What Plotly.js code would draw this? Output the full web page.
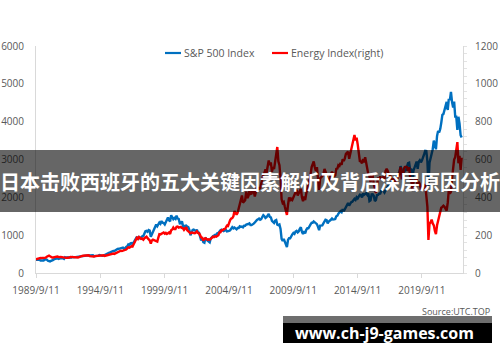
<!DOCTYPE html>
<html>
<head>
<meta charset="utf-8">
<script src="https://cdn.plot.ly/plotly-3.0.1.min.js"></script>
<style>
html,body{margin:0;padding:0;background:#fff;}
#chart{width:500px;height:362px;}
</style>
</head>
<body>
<div id="chart"></div>
<script>
// Monthly series, Sep 1989 .. Oct 2022
var startYear = 1989, startMonth = 9;

var sp500 = [
  349, 340, 346, 353,
  329, 332, 340, 331, 361, 358, 356, 323, 306, 304, 322, 330,
  344, 367, 375, 375, 390, 371, 388, 395, 388, 392, 375, 417,
  409, 413, 404, 415, 415, 408, 424, 414, 418, 419, 431, 436,
  439, 443, 452, 440, 450, 451, 448, 464, 459, 468, 462, 466,
  482, 467, 446, 451, 457, 444, 458, 475, 463, 472, 454, 459,
  470, 487, 501, 515, 533, 545, 562, 562, 584, 582, 605, 616,
  636, 640, 646, 654, 669, 671, 640, 652, 687, 705, 757, 741,
  786, 791, 757, 801, 848, 885, 954, 899, 947, 915, 955, 970,
  980, 1049, 1102, 1112, 1091, 1134, 1121, 957, 1017, 1099, 1164, 1229,
  1280, 1238, 1286, 1335, 1302, 1373, 1329, 1320, 1283, 1363, 1389, 1469,
  1394, 1366, 1527, 1452, 1421, 1455, 1431, 1518, 1437, 1429, 1315, 1320,
  1366, 1240, 1160, 1249, 1256, 1224, 1211, 1134, 1000, 1060, 1139, 1148,
  1130, 1107, 1147, 1076, 1067, 990, 860, 916, 815, 800, 936, 880,
  856, 841, 810, 917, 964, 975, 990, 1008, 996, 1051, 1058, 1112,
  1131, 1145, 1126, 1107, 1121, 1141, 1102, 1104, 1115, 1130, 1174, 1212,
  1181, 1204, 1181, 1157, 1192, 1191, 1234, 1220, 1229, 1207, 1249, 1248,
  1280, 1281, 1295, 1311, 1270, 1270, 1277, 1304, 1336, 1378, 1401, 1418,
  1438, 1407, 1421, 1482, 1531, 1503, 1455, 1474, 1527, 1560, 1481, 1468,
  1379, 1331, 1323, 1386, 1400, 1280, 1267, 1283, 1166, 900, 850, 903,
  826, 740, 685, 873, 919, 919, 987, 1021, 1057, 1036, 1096, 1115,
  1074, 1104, 1169, 1210, 1089, 1031, 1102, 1049, 1141, 1183, 1181, 1258,
  1286, 1327, 1326, 1364, 1345, 1321, 1292, 1219, 1131, 1253, 1247, 1258,
  1312, 1366, 1408, 1398, 1310, 1362, 1379, 1407, 1441, 1412, 1416, 1426,
  1498, 1515, 1569, 1598, 1631, 1606, 1686, 1633, 1682, 1757, 1806, 1848,
  1783, 1859, 1872, 1884, 1924, 1960, 1931, 2003, 1972, 2018, 2068, 2059,
  1995, 2105, 2068, 2086, 2107, 2063, 2104, 1900, 1920, 2079, 2080, 2044,
  1900, 1932, 2060, 2065, 2097, 2099, 2174, 2171, 2168, 2126, 2199, 2239,
  2279, 2364, 2363, 2384, 2412, 2423, 2470, 2472, 2519, 2575, 2648, 2674,
  2824, 2714, 2641, 2648, 2705, 2718, 2816, 2902, 2914, 2712, 2760, 2420,
  2704, 2784, 2834, 2946, 2752, 2942, 2980, 2926, 2977, 3038, 3141, 3231,
  3226, 2954, 2300, 2912, 3044, 3100, 3271, 3500, 3363, 3270, 3622, 3756,
  3714, 3811, 3973, 4181, 4204, 4298, 4395, 4523, 4308, 4605, 4567, 4790,
  4516, 4374, 4530, 4132, 4132, 3785, 4130, 3955, 3640, 3580
];

var energy = [
  72, 75, 77, 79,
  80, 79, 80, 78, 82, 81, 86, 90, 92, 88, 84, 82,
  82, 86, 85, 86, 87, 84, 86, 85, 84, 83, 80, 82,
  80, 81, 80, 82, 85, 84, 86, 85, 84, 82, 81, 82,
  84, 87, 89, 90, 91, 92, 90, 93, 92, 94, 89, 88,
  90, 88, 87, 89, 90, 92, 93, 92, 91, 94, 93, 94,
  90, 92, 94, 97, 99, 98, 100, 101, 103, 101, 104, 107,
  108, 110, 114, 118, 116, 118, 116, 120, 124, 130, 136, 134,
  140, 142, 140, 150, 160, 170, 186, 180, 190, 186, 180, 182,
  176, 184, 190, 192, 184, 180, 172, 155, 172, 176, 174, 170,
  168, 166, 186, 205, 204, 208, 212, 214, 208, 212, 206, 210,
  214, 206, 226, 230, 240, 232, 232, 244, 245, 240, 242, 244,
  238, 236, 228, 238, 242, 226, 222, 218, 210, 214, 212, 214,
  210, 214, 220, 212, 210, 200, 188, 186, 172, 180, 184, 180,
  176, 178, 176, 180, 188, 192, 190, 194, 192, 196, 200, 214,
  216, 226, 226, 232, 232, 240, 250, 248, 270, 280, 288, 290,
  300, 328, 318, 308, 318, 342, 366, 392, 410, 372, 380, 385,
  430, 396, 405, 432, 418, 420, 442, 432, 405, 430, 452, 450,
  445, 448, 470, 500, 520, 530, 548, 530, 565, 595, 570, 585,
  535, 560, 550, 600, 640, 666, 590, 570, 500, 390, 370, 375,
  350, 318, 307, 360, 400, 380, 392, 386, 402, 414, 426, 440,
  410, 420, 428, 445, 400, 380, 405, 385, 420, 445, 462, 492,
  520, 560, 580, 590, 560, 540, 560, 500, 440, 500, 505, 510,
  520, 550, 530, 520, 470, 490, 505, 520, 535, 525, 512, 515,
  550, 552, 570, 566, 582, 572, 602, 592, 606, 630, 640, 642,
  604, 628, 650, 690, 700, 729, 702, 715, 680, 645, 592, 590,
  580, 602, 584, 612, 582, 560, 520, 512, 480, 525, 515, 470,
  440, 423, 462, 505, 495, 510, 500, 505, 508, 495, 540, 550,
  540, 520, 518, 508, 492, 490, 498, 472, 505, 500, 510, 532,
  560, 500, 500, 550, 560, 562, 560, 540, 560, 500, 490, 440,
  480, 492, 500, 500, 460, 482, 470, 440, 452, 446, 450, 470,
  420, 350, 175, 260, 268, 282, 262, 252, 222, 205, 252, 272,
  292, 322, 345, 350, 356, 350, 340, 330, 372, 440, 420, 430,
  500, 540, 600, 612, 660, 692, 580, 620, 545, 610
];

var tickDates = ['1989-09-11','1994-09-11','1999-09-11','2004-09-11','2009-09-11','2014-09-11','2019-09-11'];
var tickLabels = ['1989/9/11','1994/9/11','1999/9/11','2004/9/11','2009/9/11','2014/9/11','2019/9/11'];
var leftTicks = [0, 1000, 2000, 3000, 4000, 5000, 6000];
var rightTicks = [0, 200, 400, 600, 800, 1000, 1200];
var seriesNames = ['S&P 500 Index', 'Energy Index(right)'];
var seriesColors = ['#0070C0', '#FF0000'];
var bannerText = '日本击败西班牙的五大关键因素解析及背后深层原因分析';
var siteText = 'www.ch-j9-games.com';
var sourceText = 'Source:UTC.TOP';

// month dates for the series
function pad(n){ return (n < 10 ? '0' : '') + n; }
var dates = [];
for (var i = 0; i < sp500.length; i++) {
  var m = startMonth - 1 + i;
  var y = startYear + Math.floor(m / 12);
  var mo = (m % 12) + 1;
  var d = (i === 0) ? 11 : 15;
  dates.push(y + '-' + pad(mo) + '-' + pad(d));
}

var tickFont = {family: 'Open Sans, sans-serif', size: 10, color: '#595959'};
var legendFont = {family: 'Open Sans, sans-serif', size: 10.5, color: '#595959'};

var traces = [
  {x: dates, y: sp500, name: seriesNames[0], type: 'scatter', mode: 'lines',
   line: {color: seriesColors[0], width: 2.4}, yaxis: 'y', showlegend: false},
  {x: dates, y: energy, name: seriesNames[1], type: 'scatter', mode: 'lines',
   line: {color: seriesColors[1], width: 2.4}, yaxis: 'y2', showlegend: false}
];

function px(xp){ return (xp - 36) / 427; }
function py(yp){ return (273 - yp) / 227; }

var layout = {
  width: 500, height: 362,
  margin: {l: 36, r: 37, t: 46, b: 89, pad: 0},
  paper_bgcolor: '#ffffff', plot_bgcolor: '#ffffff',
  showlegend: false,
  xaxis: {type: 'date', range: ['1989-09-11', '2022-11-22'],
          tickvals: tickDates, ticktext: tickLabels,
          showgrid: false, zeroline: false, showline: true, linecolor: '#d9d9d9', linewidth: 1,
          ticks: 'outside', ticklen: 4, tickcolor: '#d9d9d9', tickfont: tickFont, ticklabelstandoff: 4},
  yaxis: {range: [0, 6000], tickvals: leftTicks, showgrid: false, zeroline: false,
          showline: true, linecolor: '#d9d9d9', linewidth: 1, ticks: '',
          tickfont: tickFont, ticklabelstandoff: 9},
  yaxis2: {range: [0, 1200], tickvals: rightTicks, overlaying: 'y', side: 'right',
           showgrid: false, zeroline: false, showline: true, linecolor: '#d9d9d9', linewidth: 1,
           ticks: '', tickfont: tickFont, ticklabelstandoff: 9,
           minor: {ticks: 'outside', ticklen: 3, tickcolor: '#e3e3e3', dtick: 40}},
  shapes: [
    // legend samples
    {type: 'line', xref: 'paper', yref: 'paper', x0: px(165), x1: px(181), y0: py(53), y1: py(53),
     line: {color: seriesColors[0], width: 2.2}},
    {type: 'line', xref: 'paper', yref: 'paper', x0: px(272), x1: px(288), y0: py(53), y1: py(53),
     line: {color: seriesColors[1], width: 2.2}},
    // overlays
    {type: 'rect', xref: 'paper', yref: 'paper', x0: px(0), x1: px(500), y0: py(212), y1: py(150),
     fillcolor: 'rgba(0,0,0,0.6)', line: {width: 0}, layer: 'above'},
    {type: 'rect', xref: 'paper', yref: 'paper', x0: px(283), x1: px(492), y0: py(323), y1: py(316),
     fillcolor: '#6e6e6e', line: {width: 0}, layer: 'above'},
    {type: 'rect', xref: 'paper', yref: 'paper', x0: px(283), x1: px(492), y0: py(343), y1: py(323),
     fillcolor: '#000000', line: {width: 0}, layer: 'above'}
  ],
  annotations: [
    {text: seriesNames[0].replace('&', '&amp;'), xref: 'paper', yref: 'paper', x: px(182), y: py(53),
     xanchor: 'left', yanchor: 'middle', showarrow: false, font: legendFont},
    {text: seriesNames[1], xref: 'paper', yref: 'paper', x: px(289), y: py(53),
     xanchor: 'left', yanchor: 'middle', showarrow: false, font: legendFont},
    {text: sourceText, xref: 'paper', yref: 'paper', x: px(492), y: py(311), xanchor: 'right', yanchor: 'middle',
     showarrow: false, font: {family: 'Open Sans, sans-serif', size: 9, color: '#595959'}},
    {text: bannerText, xref: 'paper', yref: 'paper', x: px(250), y: py(181), xanchor: 'center', yanchor: 'middle',
     showarrow: false, font: {family: 'Noto Sans CJK SC, sans-serif', size: 20, color: '#ffffff', weight: 'bold'}},
    {text: siteText, xref: 'paper', yref: 'paper', x: px(384), y: py(333), xanchor: 'center', yanchor: 'middle',
     showarrow: false, font: {family: 'Open Sans, sans-serif', size: 16, color: '#ffffff', weight: 'bold'}}
  ]
};

Plotly.newPlot('chart', traces, layout, {displayModeBar: false, staticPlot: true});
</script>
</body>
</html>
